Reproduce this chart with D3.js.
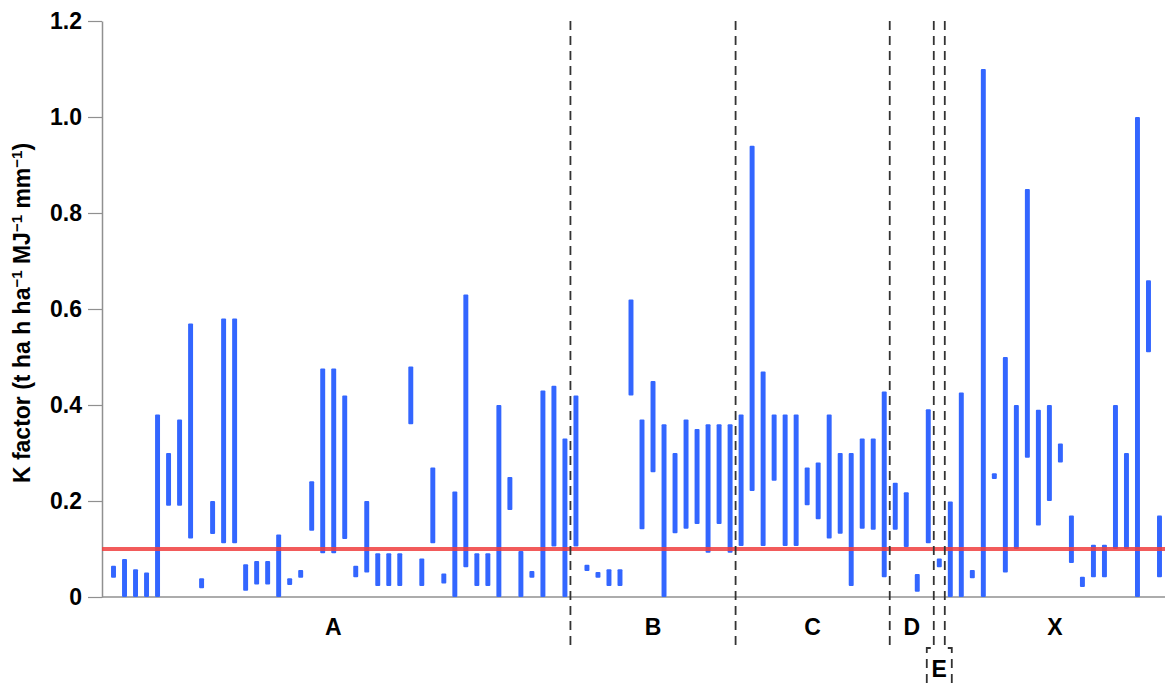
<!DOCTYPE html>
<html>
<head>
<meta charset="utf-8">
<script src="https://cdn.jsdelivr.net/npm/d3@7"></script>
<style>
  html, body { margin: 0; padding: 0; background: #ffffff; }
  svg { display: block; }
  text { font-family: "Liberation Sans", Arial, sans-serif; font-weight: bold; fill: #000; }
</style>
</head>
<body>
<svg id="chart" width="1165" height="684"></svg>
<script>
// ---- data ----
const groupNames = ["A", "B", "C", "D", "E", "X"];
const groupSizes = [42, 15, 14, 4, 1, 20];
const kLow = [
  0.04, 0, 0, 0, 0, 0.19, 0.19, 0.122, 0.018, 0.131,
  0.112, 0.112, 0.013, 0.026, 0.026, 0, 0.025, 0.04, 0.138, 0.091,
  0.091, 0.121, 0.041, 0.051, 0.023, 0.023, 0.023, 0.36, 0.023, 0.112,
  0.028, 0, 0.062, 0.023, 0.023, 0, 0.181, 0, 0.04, 0,
  0.105, 0,
  0.105, 0.054, 0.04, 0.023, 0.023, 0.42, 0.141, 0.26, 0, 0.133,
  0.142, 0.152, 0.092, 0.152, 0.092,
  0.106, 0.221, 0.106, 0.242, 0.106, 0.106, 0.191, 0.162, 0.122, 0.132,
  0.023, 0.142, 0.14, 0.041,
  0.14, 0.104, 0.011, 0.112,
  0.062,
  0, 0, 0.039, 0, 0.246, 0.051, 0.10, 0.29, 0.149, 0.20,
  0.28, 0.071, 0.021, 0.041, 0.041, 0.10, 0.10, 0, 0.51, 0.041
];
const kHigh = [
  0.065, 0.079, 0.058, 0.051, 0.38, 0.30, 0.37, 0.57, 0.039, 0.20,
  0.58, 0.58, 0.068, 0.075, 0.075, 0.13, 0.039, 0.056, 0.241, 0.476,
  0.476, 0.42, 0.065, 0.20, 0.091, 0.091, 0.091, 0.48, 0.08, 0.27,
  0.049, 0.22, 0.63, 0.091, 0.091, 0.40, 0.25, 0.096, 0.054, 0.43,
  0.44, 0.33,
  0.42, 0.067, 0.052, 0.058, 0.058, 0.62, 0.37, 0.45, 0.36, 0.30,
  0.37, 0.35, 0.36, 0.36, 0.36,
  0.38, 0.94, 0.47, 0.38, 0.38, 0.38, 0.27, 0.28, 0.38, 0.30,
  0.30, 0.33, 0.33, 0.428,
  0.238, 0.218, 0.048, 0.391,
  0.080,
  0.199, 0.426, 0.056, 1.10, 0.258, 0.50, 0.40, 0.85, 0.39, 0.40,
  0.32, 0.17, 0.042, 0.109, 0.109, 0.40, 0.30, 1.00, 0.66, 0.17
];
const yTickValues = [0, 0.2, 0.4, 0.6, 0.8, 1.0, 1.2];
const yTickLabels = ["0", "0.2", "0.4", "0.6", "0.8", "1.0", "1.2"];
const thresholdK = 0.1;

// ---- layout ----
const svg = d3.select("#chart");
const plotL = 102, plotR = 1165, plotT = 21, plotB = 597;

const idx = d3.range(kLow.length);
const x = d3.scaleBand().domain(idx).range([108, 1165]).paddingInner(0.55).paddingOuter(0.275);
const y = d3.scaleLinear().domain([0, 1.2]).range([plotB, plotT]);

// axes
const yAxis = d3.axisLeft(y).tickValues(yTickValues)
  .tickFormat((d, i) => yTickLabels[i]).tickSize(14).tickPadding(6).tickSizeOuter(0);
const gy = svg.append("g").attr("transform", `translate(${plotL},0)`).call(yAxis);
gy.select(".domain").attr("stroke", "#909090").attr("stroke-width", 1.5);
gy.selectAll(".tick line").attr("stroke", "#909090").attr("stroke-width", 1.2);
gy.selectAll(".tick text").style("font-size", "23px").style("font-weight", "bold")
  .style("font-family", "'Liberation Sans', Arial, sans-serif").attr("fill", "#000");

svg.append("line").attr("x1", plotL).attr("x2", plotR).attr("y1", y(0)).attr("y2", y(0))
  .attr("stroke", "#909090").attr("stroke-width", 1.5);

// y title
const titleParts = [["K factor (t ha h ha", false], ["\u22121", true], [" MJ", false], ["\u22121", true], [" mm", false], ["\u22121", true], [")", false]];
const title = svg.append("text")
  .attr("transform", `translate(30,313) rotate(-90)`)
  .attr("text-anchor", "middle").style("font-size", "23px");
titleParts.forEach(([t, sup], i) => {
  const prevSup = i > 0 && titleParts[i - 1][1];
  const ts = title.append("tspan").text(t).attr("dy", sup ? -8 : (prevSup ? 8 : 0));
  if (sup) ts.style("font-size", "15px");
});

// bars
svg.append("g").selectAll("rect").data(idx).join("rect")
  .attr("x", i => x(i))
  .attr("width", x.bandwidth())
  .attr("y", i => y(kHigh[i]))
  .attr("height", i => Math.max(1, y(kLow[i]) - y(kHigh[i])))
  .attr("rx", 1)
  .attr("fill", "#3366ff");

// threshold line
svg.append("line").attr("x1", plotL).attr("x2", plotR)
  .attr("y1", y(thresholdK)).attr("y2", y(thresholdK))
  .attr("stroke", "#f03e3e").attr("stroke-opacity", 0.85).attr("stroke-width", 4);

// group dividers and labels
const step = x.step();
const bounds = [];
let acc = 0;
groupSizes.forEach(n => { bounds.push([acc, acc + n - 1]); acc += n; });
const divX = i => x(i) + x.bandwidth() + (step - x.bandwidth()) / 2; // after bar i
const divG = svg.append("g").attr("fill", "none").attr("stroke", "#333")
  .attr("stroke-width", 1.8).attr("stroke-dasharray", "9,6");
bounds.slice(0, -1).forEach(([s, e], gi) => {
  const xd = divX(e);
  const name = groupNames[gi + 1];
  const prevName = groupNames[gi];
  if (name === "E") {
    divG.append("path").attr("d", `M${xd},${plotT} V648 H${xd - 7} V684`);
  } else if (prevName === "E") {
    divG.append("path").attr("d", `M${xd},${plotT} V648 H${xd + 7} V684`);
  } else {
    divG.append("path").attr("d", `M${xd},${plotT} V646`);
  }
});
bounds.forEach(([s, e], gi) => {
  const name = groupNames[gi];
  const x0 = gi === 0 ? plotL : divX(bounds[gi - 1][1]);
  const x1 = gi === bounds.length - 1 ? plotR : divX(e);
  svg.append("text").attr("x", (x0 + x1) / 2 + (gi === 0 ? -3 : 0)).attr("y", name === "E" ? 677 : 635)
    .attr("text-anchor", "middle").style("font-size", "23px").text(name);
});
</script>
</body>
</html>
